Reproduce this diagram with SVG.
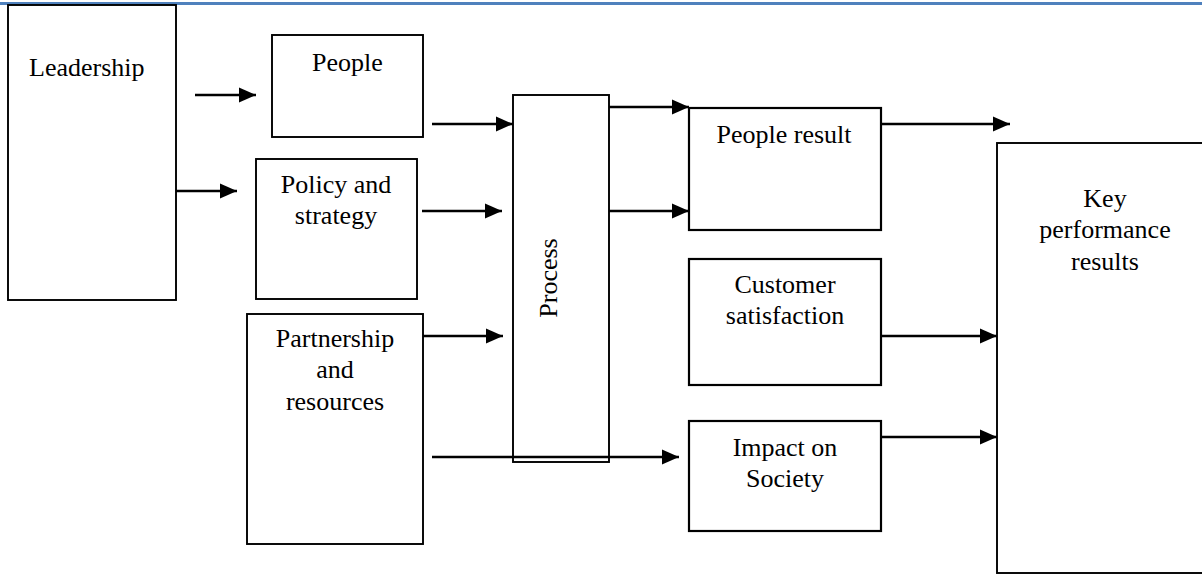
<svg xmlns="http://www.w3.org/2000/svg" width="1202" height="575" viewBox="0 0 1202 575">
<style>
  .box { fill: #ffffff; stroke: #000000; stroke-width: 1.9; }
  .lbl { font-family: "Liberation Serif", "Times New Roman", serif; font-size: 26px; fill: #000000; text-anchor: middle; }
  .conn { stroke: #000000; stroke-width: 2.5; fill: none; marker-end: url(#arrow); }
</style>
<defs>
  <marker id="arrow" markerUnits="userSpaceOnUse" markerWidth="17" markerHeight="16" refX="17" refY="8" orient="auto">
    <path d="M0,0.5 L17,8 L0,15.5 Z" fill="#000000"/>
  </marker>
</defs>
<rect x="0" y="0" width="1202" height="575" fill="#ffffff"/>
<line x1="0" y1="3.5" x2="1202" y2="3.5" stroke="#4f81bd" stroke-width="3"/>

<g id="leadership">
  <rect class="box" x="8" y="5" width="168" height="295"/>
  <text class="lbl" x="29" y="76" style="text-anchor:start">Leadership</text>
</g>
<g id="people">
  <rect class="box" x="272" y="35" width="151" height="102"/>
  <text class="lbl" x="347.5" y="71">People</text>
</g>
<g id="policy">
  <rect class="box" x="256" y="159" width="161" height="140"/>
  <text class="lbl" x="336" y="193">Policy and</text>
  <text class="lbl" x="336" y="224">strategy</text>
</g>
<g id="partnership">
  <rect class="box" x="247" y="314" width="176" height="230"/>
  <text class="lbl" x="335" y="347">Partnership</text>
  <text class="lbl" x="335" y="378">and</text>
  <text class="lbl" x="335" y="410">resources</text>
</g>
<g id="process">
  <rect class="box" x="513" y="95" width="96" height="367"/>
  <text class="lbl" x="0" y="0" transform="translate(557,278) rotate(-90)">Process</text>
</g>
<g id="people-result">
  <rect class="box" x="689" y="108" width="192" height="122" style="stroke-width:2.2"/>
  <text class="lbl" x="784" y="143">People result</text>
</g>
<g id="customer">
  <rect class="box" x="689" y="259" width="192" height="126" style="stroke-width:2.2"/>
  <text class="lbl" x="785" y="293">Customer</text>
  <text class="lbl" x="785" y="324">satisfaction</text>
</g>
<g id="impact">
  <rect class="box" x="689" y="421" width="192" height="110" style="stroke-width:2.2"/>
  <text class="lbl" x="785" y="456">Impact on</text>
  <text class="lbl" x="785" y="487">Society</text>
</g>
<g id="kpr">
  <rect class="box" x="997" y="143" width="220" height="430"/>
  <text class="lbl" x="1105" y="207">Key</text>
  <text class="lbl" x="1105" y="238">performance</text>
  <text class="lbl" x="1105" y="270">results</text>
</g>

<g id="connectors">
  <line class="conn" x1="195" y1="95" x2="256" y2="95"/>
  <line class="conn" x1="176" y1="191" x2="237" y2="191"/>
  <line class="conn" x1="432" y1="124" x2="513" y2="124"/>
  <line class="conn" x1="422" y1="211" x2="502" y2="211"/>
  <line class="conn" x1="423" y1="336" x2="503" y2="336"/>
  <line class="conn" x1="432" y1="457" x2="679" y2="457"/>
  <line class="conn" x1="609" y1="107" x2="689" y2="107"/>
  <line class="conn" x1="609" y1="211" x2="689" y2="211"/>
  <line class="conn" x1="881" y1="124" x2="1010" y2="124"/>
  <line class="conn" x1="881" y1="336" x2="997" y2="336"/>
  <line class="conn" x1="881" y1="437" x2="997" y2="437"/>
</g>
</svg>
